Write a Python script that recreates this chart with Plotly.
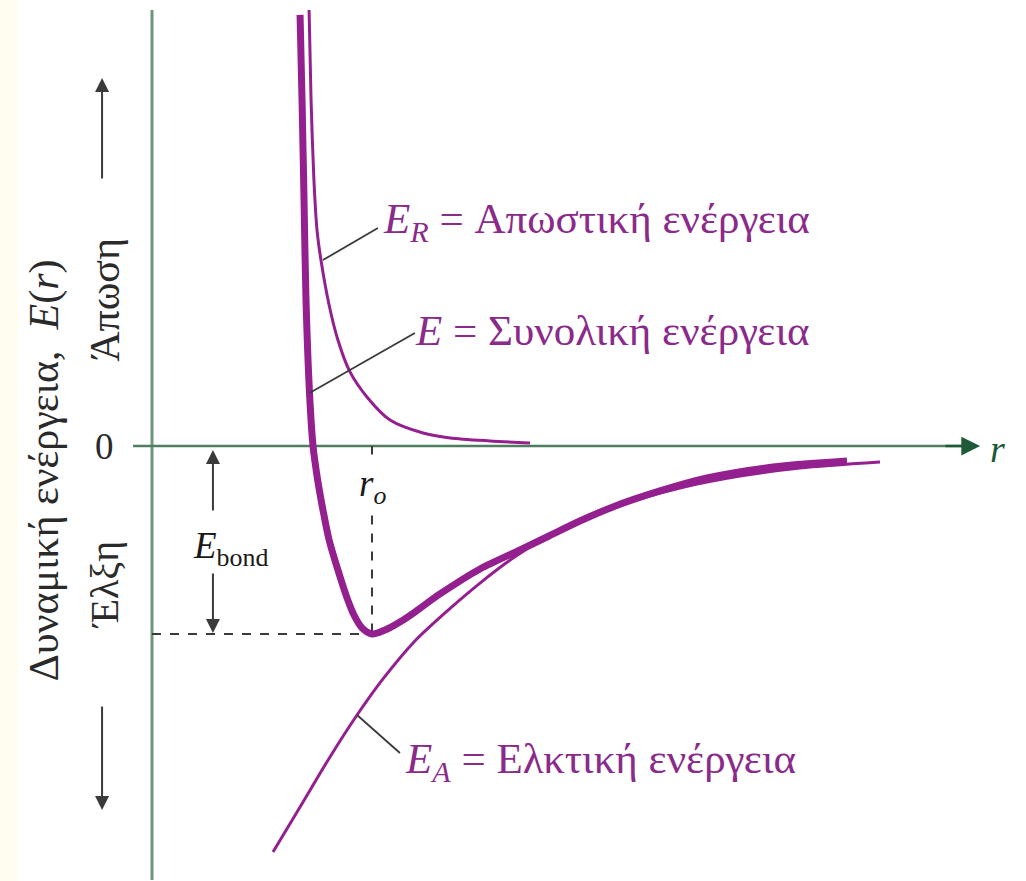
import plotly.graph_objects as go

# Interatomic distance r (units of r_o) and potential energy E (units of E_bond)
r_total = [0.673, 0.682, 0.691, 0.700, 0.716, 0.732, 0.753, 0.777, 0.805, 0.841, 0.882, 0.918,
           0.955, 1.000, 1.059, 1.127, 1.195, 1.309, 1.491, 1.673, 1.795, 1.945, 2.095, 2.309,
           2.523, 2.823, 3.159]
e_total = [2.293, 1.840, 1.309, 0.777, 0.282, 0.000, -0.181, -0.340, -0.500, -0.644, -0.793,
           -0.899, -0.968, -1.000, -0.979, -0.936, -0.883, -0.787, -0.654, -0.553, -0.484,
           -0.399, -0.324, -0.239, -0.170, -0.112, -0.080]

r_rep = [0.714, 0.723, 0.736, 0.750, 0.768, 0.805, 0.845, 0.900, 0.977, 1.082, 1.232, 1.355,
         1.536, 1.718]
e_rep = [2.319, 1.840, 1.415, 1.149, 0.989, 0.750, 0.564, 0.394, 0.261, 0.138, 0.069, 0.043,
         0.027, 0.016]

r_att = [0.550, 0.673, 0.809, 0.932, 1.050, 1.195, 1.341, 1.491, 1.641, 1.795, 1.945, 2.127,
         2.400, 2.673, 2.945, 3.309]
e_att = [-2.160, -1.920, -1.654, -1.431, -1.239, -1.037, -0.878, -0.729, -0.596, -0.484,
         -0.399, -0.314, -0.223, -0.160, -0.117, -0.085]

r_o = 1.0
e_bond = -1.0

label_rep = "<i>E<sub>R</sub></i> = Απωστική ενέργεια"
label_total = "<i>E</i> = Συνολική ενέργεια"
label_att = "<i>E<sub>A</sub></i> = Ελκτική ενέργεια"
y_title = "Δυναμική ενέργεια,  <i>E</i>(<i>r</i>)"
repulsion = "Άπωση"
attraction = "Έλξη"

PURPLE = "#94208f"
TEXT_PURPLE = "#8a2a8a"
AXIS = "#4f7d62"
GREY = "#3a3a3a"
SERIF = "Times New Roman, Liberation Serif, DejaVu Serif, serif"

XR = [-0.6909, 3.9727]
YR = [-2.3138, 2.3723]

fig = go.Figure()

# Axes drawn as lines
fig.add_trace(go.Scatter(x=[0, 0], y=[2.319, -2.309], mode="lines",
                         line=dict(color="#6f957f", width=3), hoverinfo="skip"))
fig.add_trace(go.Scatter(x=[-0.086, 3.72], y=[0, 0], mode="lines",
                         line=dict(color=AXIS, width=2.5), hoverinfo="skip"))

# Bond-energy guide lines
fig.add_trace(go.Scatter(x=[0, r_o], y=[e_bond, e_bond], mode="lines",
                         line=dict(color=GREY, width=2, dash="dash"), hoverinfo="skip"))
fig.add_trace(go.Scatter(x=[r_o, r_o], y=[-0.37, e_bond], mode="lines",
                         line=dict(color=GREY, width=2, dash="dash"), hoverinfo="skip"))
fig.add_trace(go.Scatter(x=[r_o, r_o], y=[0, -0.045], mode="lines",
                         line=dict(color=GREY, width=2), hoverinfo="skip"))

# Energy curves
fig.add_trace(go.Scatter(x=r_att, y=e_att, mode="lines", line=dict(color=PURPLE, width=3,
                         shape="spline", smoothing=0.8), hoverinfo="skip"))
fig.add_trace(go.Scatter(x=r_rep, y=e_rep, mode="lines", line=dict(color=PURPLE, width=3,
                         shape="spline", smoothing=0.8), hoverinfo="skip"))
fig.add_trace(go.Scatter(x=r_total, y=e_total, mode="lines", line=dict(color=PURPLE, width=7,
                         shape="spline", smoothing=0.8), hoverinfo="skip"))

# Leader lines from labels to curves
for xs, ys in [([0.777, 1.027], [0.989, 1.160]),
               ([0.716, 1.195], [0.282, 0.601]),
               ([0.932, 1.127], [-1.431, -1.633])]:
    fig.add_trace(go.Scatter(x=xs, y=ys, mode="lines",
                             line=dict(color=GREY, width=1.8), hoverinfo="skip"))

ann = []


def arrow(x0, y0, x1, y1, color=GREY, width=2, size=1.4, head=2):
    ann.append(dict(x=x1, y=y1, ax=x0, ay=y0, xref="x", yref="y", axref="x", ayref="y",
                    text="", showarrow=True, arrowhead=head, arrowsize=size,
                    arrowwidth=width, arrowcolor=color, standoff=0, startstandoff=0))


# r-axis arrowhead
arrow(3.60, 0, 3.764, 0, color="#1d5a38", width=2.5, size=1.5)
# repulsion / attraction arrows
arrow(-0.227, 1.415, -0.227, 1.957)
arrow(-0.227, -1.378, -0.227, -1.936)
# bond energy arrows
arrow(0.277, -0.351, 0.277, -0.021)
arrow(0.277, -0.670, 0.277, -0.995)


def text(x, y, s, size, color="#222", xanchor="center", angle=0):
    ann.append(dict(x=x, y=y, xref="x", yref="y", text=s, showarrow=False,
                    xanchor=xanchor, yanchor="middle", textangle=angle,
                    font=dict(family=SERIF, size=size, color=color)))


text(1.04, 1.19, label_rep, 43, TEXT_PURPLE, xanchor="left")
text(1.185, 0.617, label_total, 43, TEXT_PURPLE, xanchor="left")
text(1.14, -1.681, label_att, 43, TEXT_PURPLE, xanchor="left")
text(-0.49, -0.128, y_title, 42, "#2a2a2a", angle=-90)
text(-0.214, 0.777, repulsion, 42, "#2a2a2a", angle=-90)
text(-0.214, -0.739, attraction, 40, "#2a2a2a", angle=-90)
text(-0.214, 0.0, "0", 37, "#2a2a2a")
text(0.355, -0.543, "<i>E</i><sub>bond</sub>", 37, "#1a1a1a")
text(1.0, -0.215, "<i>r<sub>o</sub></i>", 37, "#1a1a1a")
text(3.845, -0.015, "<i>r</i>", 38, "#1d5a38")

fig.update_layout(
    width=1026, height=881,
    margin=dict(l=0, r=0, t=0, b=0),
    paper_bgcolor="white", plot_bgcolor="white",
    font=dict(family=SERIF),
    showlegend=False,
    xaxis=dict(range=XR, visible=False, fixedrange=True),
    yaxis=dict(range=YR, visible=False, fixedrange=True),
    annotations=ann,
    shapes=[dict(type="rect", xref="paper", yref="paper", x0=0, x1=18 / 1026, y0=0, y1=1,
                 fillcolor="#fefdf0", line=dict(width=0), layer="below")],
)

fig.write_html("out.html")
